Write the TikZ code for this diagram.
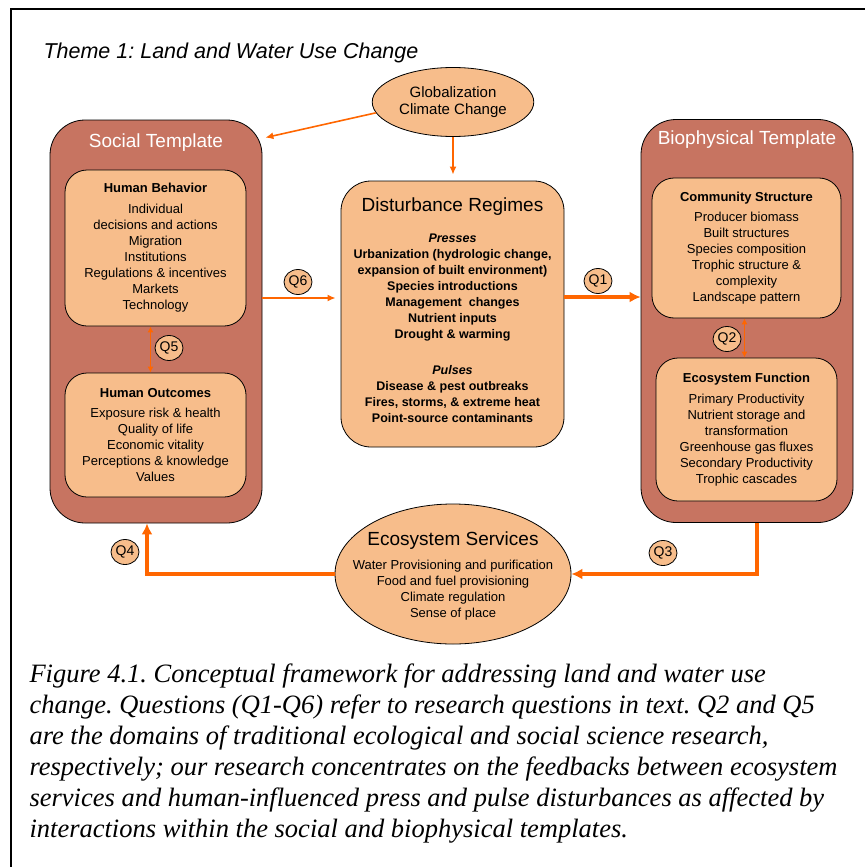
\documentclass[tikz,border=0pt]{standalone}
\usepackage{fontspec}
\setmainfont{Liberation Sans}
\newfontfamily\capfont{Liberation Serif}
\usetikzlibrary{arrows.meta,shapes.geometric,positioning}
\definecolor{tmplbrown}{RGB}{199,116,97}
\definecolor{boxorange}{RGB}{247,189,139}
\definecolor{arroworange}{RGB}{255,102,0}
\frenchspacing

\tikzset{
	template/.style={draw=black, fill=tmplbrown, rounded corners=35pt, line width=0.8pt, minimum width=212pt, minimum height=403pt},
	tmpltitle/.style={text=white, font=\fontsize{19}{19}\selectfont},
	innerbox/.style={draw=black, fill=boxorange, rounded corners=22pt, line width=0.8pt, align=center, font=\fontsize{13}{16}\selectfont},
	qlabel/.style={draw=black, fill=boxorange, ellipse, line width=0.8pt, minimum width=28pt, minimum height=25pt, inner sep=0pt, font=\fontsize{14}{14}\selectfont},
	thinarrow/.style={draw=arroworange, line width=1.6pt, -{Latex[length=8pt,width=7pt]}},
	thickarrow/.style={draw=arroworange, line width=3.5pt, -{Latex[length=11pt,width=11pt]}},
	qarrow/.style={draw=arroworange, line width=1.6pt, {Latex[length=6pt,width=6pt]}-{Latex[length=6pt,width=6pt]}}
}

\begin{document}
\begin{tikzpicture}[x=1pt,y=-1pt]
	\useasboundingbox (0,0) rectangle (865,867);
	\draw[line width=2.5pt] (11,867) -- (11,9) -- (865,9);
	\node[anchor=west, font=\itshape\fontsize{21.5}{21.5}\selectfont] (theme) at (40,53) {Theme 1: Land and Water Use Change};

	\node[template] (social) at (156,321.5) {};
	\node[template] (bio) at (747,321) {};
	\node[tmpltitle] (socialtitle) at (156,143) {Social Template};
	\node[tmpltitle] (biotitle) at (747,140) {Biophysical Template};

	\node[innerbox, minimum width=181pt, minimum height=156pt] (hb) at (155.5,248) {\textbf{Human Behavior}\\[5pt]Individual\\decisions and actions\\Migration\\Institutions\\Regulations \& incentives\\Markets\\Technology};
	\node[innerbox, minimum width=181pt, minimum height=124pt] (ho) at (155.5,435) {\textbf{Human Outcomes}\\[4pt]Exposure risk \& health\\Quality of life\\Economic vitality\\Perceptions \& knowledge\\Values};
	\node[innerbox, minimum width=189pt, minimum height=140pt] (cs) at (746.5,248) {\textbf{Community Structure}\\[4pt]Producer biomass\\Built structures\\Species composition\\Trophic structure \&\\complexity\\Landscape pattern};
	\node[innerbox, minimum width=181pt, minimum height=143pt] (ef) at (746.5,429.5) {\textbf{Ecosystem Function}\\[5pt]Primary Productivity\\Nutrient storage and\\transformation\\Greenhouse gas fluxes\\Secondary Productivity\\Trophic cascades};

	\node[innerbox, rounded corners=30pt, minimum width=223pt, minimum height=266pt] (dist) at (452.5,314) {};
	\node[font=\fontsize{19}{19}\selectfont] (disttitle) at (452.5,207) {Disturbance Regimes};
	\node[align=center, font=\bfseries\fontsize{12.5}{16}\selectfont] (disttext) at (452.5,328) {\textit{Presses}\\Urbanization (hydrologic change,\\expansion of built environment)\\Species introductions\\Management\ \ changes\\Nutrient inputs\\Drought \& warming\\[20pt]\textit{Pulses}\\Disease \& pest outbreaks\\Fires, storms, \& extreme heat\\Point-source contaminants};

	\node[draw=black, fill=boxorange, ellipse, line width=0.8pt, minimum width=154pt, minimum height=69pt, align=center, font=\fontsize{15}{17}\selectfont] (glob) at (453,102) {Globalization\\Climate Change};
	\node[draw=black, fill=boxorange, ellipse, line width=0.8pt, minimum width=236pt, minimum height=140pt] (ecos) at (453,574) {};
	\node[font=\fontsize{19}{19}\selectfont] (ecostitle) at (453,541) {Ecosystem Services};
	\node[align=center, font=\fontsize{13}{16}\selectfont] (ecostext) at (453,590) {Water Provisioning and purification\\Food and fuel provisioning\\Climate regulation\\Sense of place};

	\node[qlabel] (q1) at (598,281) {Q1};
	\node[qlabel] (q2) at (727,339) {Q2};
	\node[qlabel] (q3) at (663,553) {Q3};
	\node[qlabel] (q4) at (125,552) {Q4};
	\node[qlabel] (q5) at (169,348) {Q5};
	\node[qlabel] (q6) at (298,282) {Q6};

	\coordinate (q6lvl) at (0,298);
	\coordinate (q1lvl) at (0,297);
	\draw[thinarrow] (glob.188) -- ([xshift=3pt,yshift=-18pt]social.north east);
	\draw[thinarrow, shorten >=6pt] (glob.south) -- (glob.south |- dist.north);
	\draw[thinarrow, shorten >=5pt] (social.east |- q6lvl) -- (dist.west |- q6lvl);
	\draw[thickarrow] (dist.east |- q1lvl) -- (bio.west |- q1lvl);
	\draw[qarrow] ([xshift=-5pt]hb.south) -- ([xshift=-5pt]ho.north);
	\draw[qarrow] ([xshift=-2pt]cs.south) -- ([xshift=-2pt]ef.north);
	\draw[thickarrow] ([xshift=10pt]bio.south) |- (ecos.east);
	\draw[thickarrow] (ecos.west) -| ([xshift=-9pt]social.south);

	\node[anchor=north west, align=left, font=\capfont\itshape\fontsize{26.5}{31}\selectfont] (caption) at (26,660) {Figure 4.1. Conceptual framework for addressing land and water use\\change. Questions (Q1-Q6) refer to research questions in text. Q2 and Q5\\are the domains of traditional ecological and social science research,\\respectively; our research concentrates on the feedbacks between ecosystem\\services and human-influenced press and pulse disturbances as affected by\\interactions within the social and biophysical templates.};
\end{tikzpicture}
\end{document}
